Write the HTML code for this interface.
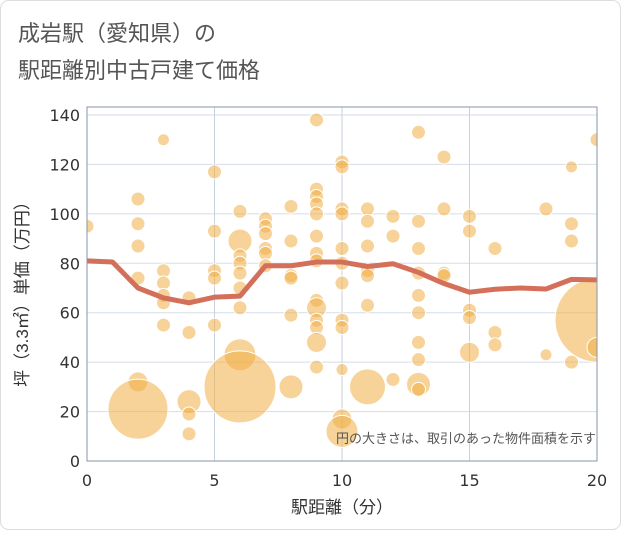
<!DOCTYPE html>
<html><head><meta charset="utf-8"><style>
body{margin:0;background:#fff;}
svg text{font-family:"Liberation Sans","Noto Sans CJK JP",sans-serif;}
svg text.tick{font-family:"DejaVu Sans","Liberation Sans",sans-serif;}
</style></head><body>
<svg id="chart" width="621" height="530" viewBox="0 0 621 530">
<rect x="0.5" y="0.5" width="620" height="529" rx="8" fill="#fff" stroke="#ddd"/>
<text x="18" y="41" font-size="22" fill="#555">成岩駅（愛知県）の</text>
<text x="18" y="78" font-size="22" fill="#555">駅距離別中古戸建て価格</text>
<defs><clipPath id="pc"><rect x="87" y="107" width="510" height="354"/></clipPath></defs>
<g id="grid"></g>
<g id="bubbles" clip-path="url(#pc)"></g>
<g id="line" clip-path="url(#pc)"></g>
<rect x="87" y="107" width="510" height="354" fill="none" stroke="#8a96a8" stroke-width="1"/>
<g id="axes"></g>
<text x="596" y="443" font-size="13" fill="#555" text-anchor="end">円の大きさは、取引のあった物件面積を示す</text>
<text x="342" y="513" font-size="17" fill="#333" text-anchor="middle">駅距離（分）</text>
<text transform="translate(28,290) rotate(-90)" font-size="17" fill="#333" text-anchor="middle">坪（3.3㎡）単価（万円）</text>
</svg>
<script>
const xTicks=[0,5,10,15,20];
const yTicks=[0,20,40,60,80,100,120,140];
const bubbleX=[0,2,2,2,2,2,2,3,3,3,3,3,3,4,4,4,4,4,5,5,5,5,5,6,6,6,6,6,6,6,6,6,7,7,7,7,7,7,8,8,8,8,8,8,9,9,9,9,9,9,9,9,9,9,9,9,9,9,10,10,10,10,10,10,10,10,10,10,10,10,11,11,11,11,11,11,11,12,12,12,13,13,13,13,13,13,13,13,13,13,14,14,14,14,15,15,15,15,15,16,16,16,18,18,19,19,19,19,20,20,20];
const bubbleY=[95,106,96,87,74,32,21,130,77,72,67,64,55,66,52,24,19,11,117,93,77,74,55,101,89,83,80,76,70,62,43,30,98,95,92,86,84,79,103,89,75,74,59,30,138,110,107,104,100,91,84,81,65,62,57,54,48,38,121,119,102,100,86,80,72,57,54,37,17,12,102,97,87,77,75,63,30,99,91,33,133,97,86,76,67,60,48,41,31,29,123,102,76,75,99,93,61,58,44,86,52,47,102,43,119,96,89,40,130,57,46];
const bubbleR=[7,7,7,7,7,10,30,6,7,7,7,7,7,7,7,12,7,7,7,7,7,7,7,7,12,7,7,7,7,7,16,36,7,7,7,7,7,7,7,7,7,7,7,12,7,7,7,7,7,7,7,7,7,10,7,7,10,7,7,7,7,7,7,7,7,7,7,6,10,16,7,7,7,7,7,7,18,7,7,7,7,7,7,7,7,7,7,7,12,7,7,7,7,7,7,7,7,7,10,7,7,7,7,6,6,7,7,7,7,42,10];
const lineX=[0,1,2,3,4,5,6,7,8,9,10,11,12,13,14,15,16,17,18,19,20];
const lineY=[81,80.5,70,66,64,66.3,66.7,79,79,80.5,80.5,78.7,79.8,76.3,71.8,68.3,69.5,70,69.6,73.5,73.3];
const NS="http://www.w3.org/2000/svg";
const X0=87,X1=597,Y0=461,Y1=115;
const sx=v=>X0+(X1-X0)*v/20;
const sy=v=>Y0-(Y0-Y1)*v/140;
const grid=document.getElementById('grid'),axes=document.getElementById('axes');
function mk(t,a,p){const e=document.createElementNS(NS,t);for(const k in a)e.setAttribute(k,a[k]);p.appendChild(e);return e;}
yTicks.forEach(v=>{
 const l=mk('line',{x1:X0,x2:X1,y1:sy(v),y2:sy(v),stroke:'#d5dde8','stroke-width':1},grid);
 
 
 const t=mk('text',{x:80,y:sy(v)+6,'font-size':16,fill:'#333','text-anchor':'end','class':'tick'},axes);
 t.textContent=v;
 
 
});
xTicks.forEach(v=>{
 const l=mk('line',{x1:sx(v),x2:sx(v),y1:107,y2:Y0,stroke:'#c8d2de','stroke-width':1},grid);
 
 
 const t=mk('text',{x:sx(v),y:486,'font-size':16,fill:'#333','text-anchor':'middle','class':'tick'},axes);
 t.textContent=v;
 
 
});
const bg=document.getElementById('bubbles');
bubbleX.forEach((x,i)=>{
 const c=mk('circle',{cx:sx(x),cy:sy(bubbleY[i]),r:bubbleR[i],fill:'rgba(240,175,70,0.55)',stroke:'#fff','stroke-width':1},bg);
 
 
});
const pts=lineX.map((x,i)=>sx(x)+','+sy(lineY[i])).join(' ');
const pl=mk('polyline',{points:pts,fill:'none',stroke:'#d4705a','stroke-width':5,'stroke-linejoin':'round'},document.getElementById('line'));


</script>
</body></html>
